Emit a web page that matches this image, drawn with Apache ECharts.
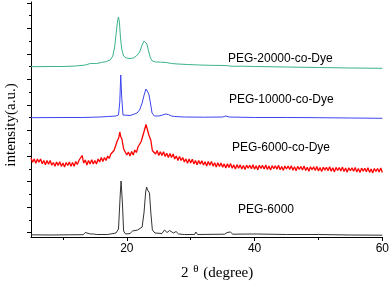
<!DOCTYPE html>
<html>
<head>
<meta charset="utf-8">
<script src="https://cdn.jsdelivr.net/npm/echarts@6/dist/echarts.min.js"></script>
<style>html,body{margin:0;padding:0;background:#fff}#c{width:392px;height:282px}</style>
</head>
<body>
<div id="c"></div>
<script>
// 2θ (degree) vs intensity (a.u., stacked offsets)
const peg6000 = [[5,2.2],[8,2.0],[11,2.2],[13.2,2.3],[13.5,4.5],[13.8,2.5],[14.3,3],[14.5,5],[14.75,3],[15.0,5],[15.3,2.5],[17,2.5],[18.3,4],[18.7,8],[18.95,40],[19.1,56],[19.3,35],[19.5,6],[19.8,3],[20.5,3.5],[20.9,6],[21.2,4.5],[21.7,7],[22.0,6],[22.4,10],[22.7,25],[22.95,45],[23.1,50],[23.25,47],[23.4,47.5],[23.55,44],[23.75,25],[24.0,7],[24.4,4],[25.5,3.5],[25.9,7],[26.3,4.5],[26.7,6.5],[27.0,7],[27.3,4],[27.7,5.5],[28.1,3],[29,2.5],[30.6,2.5],[30.8,5],[31.1,2.5],[35.3,2.8],[35.7,4.5],[36.2,5],[36.6,2.8],[39.6,3],[39.9,5],[40.3,3],[45,2.5],[50,2.5],[55,2.0],[60,1.8]];
const peg6000Dye = [[5,79],[5.25,74.8],[5.5,78],[5.75,73.8],[6,78],[6.25,74.8],[6.5,78],[6.75,73.3],[7,76.5],[7.25,72.3],[7.5,76.5],[7.75,72.8],[8,76.5],[8.25,71.8],[8.5,74.5],[8.75,70.8],[9,75],[9.25,71.4],[9.5,75.3],[9.75,70.6],[10,74],[10.25,70],[10.5,74.5],[10.75,71.5],[11,75],[11.25,70.7],[11.5,74.5],[11.75,70.7],[12,75.5],[12.25,72.5],[12.5,76.5],[12.75,76],[13,81.5],[13.25,74],[13.5,77],[13.75,72],[14,76.5],[14.25,73.1],[14.5,77.3],[14.75,73],[15,76.5],[15.25,73],[15.5,78],[15.75,75],[16,79.5],[16.25,75.5],[16.5,79.5],[16.75,76.5],[17,81],[17.25,78.5],[17.5,83],[17.75,81],[18,86.5],[18.25,86.5],[18.5,96],[18.75,99.5],[18.9,105],[19.05,100.5],[19.25,97.5],[19.5,88],[19.75,87.5],[20,82],[20.25,85],[20.5,81],[20.75,85.5],[21,82],[21.25,87],[21.5,84.5],[21.75,90],[22,88],[22.25,95.5],[22.5,96.5],[22.7,105.5],[22.85,107],[23,112.5],[23.15,111],[23.3,110.5],[23.5,101],[23.75,97],[24,86.5],[24.25,88],[24.5,83],[24.75,86.5],[25,81.5],[25.25,85.3],[25.5,81.5],[25.75,85.3],[26,80.5],[26.25,83.8],[26.5,79.5],[26.75,83.5],[27,79.5],[27.25,83],[27.5,78],[27.75,81],[28,76.5],[28.25,80.5],[28.5,76.5],[28.75,79.5],[29,75],[29.25,78.1],[29.5,73.7],[29.75,77.9],[30,74],[30.25,77.8],[30.5,73.1],[30.75,76.4],[31,72.3],[31.25,76.6],[31.5,72.9],[31.75,76.2],[32,72],[32.25,75.3],[32.5,71.1],[32.75,75.4],[33,71.7],[33.25,75.5],[33.5,70.9],[33.75,74.2],[34,70],[34.25,74.3],[34.5,70.6],[34.75,73.9],[35,69.7],[35.25,73.1],[35.5,68.9],[35.75,73.2],[36,69.5],[36.25,73.4],[36.5,68.7],[36.75,72.1],[37,68],[37.25,72.4],[37.5,68.8],[37.75,72.1],[38,68],[38.25,71.5],[38.5,67.4],[38.75,71.9],[39,68.9],[39.25,71.8],[39.5,68.3],[39.75,72.3],[40,67.8],[40.25,71.3],[40.5,67.2],[40.75,71.7],[41,68.6],[41.25,71.6],[41.5,68],[41.75,72],[42,67.5],[42.25,70.9],[42.5,66.9],[42.75,71.35],[43,68.3],[43.25,71.3],[43.5,67.7],[43.75,71.7],[44,67.15],[44.25,70.6],[44.5,66.6],[44.75,71],[45,68],[45.25,70.95],[45.5,67.4],[45.75,71.35],[46,66.8],[46.25,70.25],[46.5,66.2],[46.75,70.65],[47,67.6],[47.25,70.55],[47.5,67],[47.75,70.95],[48,66.4],[48.25,69.85],[48.5,65.8],[48.75,70.25],[49,67.2],[49.25,70.15],[49.5,66.6],[49.75,70.55],[50,66],[50.25,69.45],[50.5,65.4],[50.75,69.9],[51,66.85],[51.25,69.8],[51.5,66.3],[51.75,70.25],[52,65.7],[52.25,69.15],[52.5,65.1],[52.75,69.6],[53,66.55],[53.25,69.5],[53.5,66],[53.75,69.95],[54,65.4],[54.25,68.9],[54.5,64.85],[54.75,69.3],[55,66.3],[55.25,69.25],[55.5,65.7],[55.75,69.6],[56,65],[56.25,68.5],[56.5,64.4],[56.75,68.9],[57,65.8],[57.25,68.8],[57.5,65.2],[57.75,69.2],[58,64.6],[58.25,68.1],[58.5,64.1],[58.75,68.55],[59,65.5],[59.25,68.5],[59.5,65],[59.75,69],[60,64.5]];
const peg10000Dye = [[5,119.3],[10,119.5],[13,119.5],[15.8,120],[17,120.5],[18.3,121],[18.7,122],[18.9,135],[19.05,162],[19.2,140],[19.4,122],[19.7,121],[20.5,121.5],[21.2,123],[21.6,124],[22.0,127],[22.4,134],[22.75,143],[23.0,148],[23.2,149],[23.45,143],[23.7,134],[23.95,124],[24.3,121],[25,121],[25.6,122],[26.1,123],[26.5,122.5],[27,121],[27.5,120.5],[29,120],[32,119.8],[35,120],[35.5,121],[36,120],[40,119.5],[45,119.5],[50,119.3],[55,119],[60,118.7]];
const peg20000Dye = [[5,170.3],[8,170.5],[10,170.5],[12,171],[13.5,172],[14.3,173.5],[14.6,174.5],[14.9,173.5],[15.3,173.5],[16,174.5],[16.8,175.5],[17.4,177],[17.8,181],[18.1,190],[18.35,205],[18.55,216],[18.7,220],[18.85,214],[19.0,200],[19.2,188],[19.5,181],[19.9,179],[20.5,178.5],[21.0,179],[21.5,181],[22.0,185],[22.4,192],[22.7,196],[22.9,197],[23.15,193],[23.4,186],[23.7,179],[24.0,176],[24.5,175],[25.3,174.8],[26.2,174.5],[27,173.5],[28,173],[29.5,172.5],[31.4,172],[33,171.7],[35.5,171.5],[36.5,170.7],[38,170.8],[40,170.5],[45,170],[50,169.5],[55,169],[60,168.7]];
const seriesNames = ['PEG-6000','PEG-6000-co-Dye','PEG-10000-co-Dye','PEG-20000-co-Dye'];
const xLabelTicks = [20,40,60];
const xMinorTicks = [10,30,50];
const yMajorTicks = [4.3,29.85,55.4,80.95,106.5,132.05,157.6,183.15,208.7,234.25];
const yMinorTicks = [17.1,42.6,68.2,93.7,119.3,144.8,170.4,195.9,221.5];

const chart = echarts.init(document.getElementById('c'), null, {renderer:'canvas'});
const serif = 'Liberation Serif, Times New Roman, serif';
const sans = 'Liberation Sans, Arial, sans-serif';
function lineSeries(name, data, color, width){
  return {name:name, type:'line', data:data, showSymbol:false, symbol:'none', smooth:false,
    lineStyle:{color:color, width:width}, itemStyle:{color:color}, animation:false, xAxisIndex:0, yAxisIndex:0};
}
chart.setOption({
  backgroundColor:'#fff',
  animation:false,
  grid:{left:31, right:9, top:2, bottom:45},
  xAxis:[{
    type:'value', min:5, max:60, position:'bottom',
    axisLine:{show:true, lineStyle:{color:'#000', width:1}},
    axisTick:{show:true, customValues:xLabelTicks, length:4, lineStyle:{color:'#000'}},
    axisLabel:{show:true, customValues:xLabelTicks, color:'#000', fontFamily:sans, fontSize:12, margin:6},
    splitLine:{show:false}
  },{
    type:'value', min:5, max:60, position:'bottom', gridIndex:0,
    axisLine:{show:false},
    axisTick:{show:true, customValues:xMinorTicks, length:3, lineStyle:{color:'#000'}},
    axisLabel:{show:false},
    splitLine:{show:false}
  }],
  yAxis:[{
    type:'value', min:0, max:235, position:'left',
    axisLine:{show:true, lineStyle:{color:'#000', width:1}},
    axisTick:{show:true, customValues:yMajorTicks, length:4, lineStyle:{color:'#000'}},
    axisLabel:{show:false},
    splitLine:{show:false}
  },{
    type:'value', min:0, max:235, position:'left',
    axisLine:{show:false},
    axisTick:{show:true, customValues:yMinorTicks, length:2, lineStyle:{color:'#000'}},
    axisLabel:{show:false},
    splitLine:{show:false}
  }],
  series:[
    lineSeries(seriesNames[0], peg6000, '#333333', 1),
    lineSeries(seriesNames[1], peg6000Dye, '#ff0000', 1.3),
    lineSeries(seriesNames[2], peg10000Dye, '#3d45f0', 1),
    lineSeries(seriesNames[3], peg20000Dye, '#3cb38c', 1)
  ],
  graphic:[
    {type:'text', left:228, top:53, style:{text:seriesNames[3], fontFamily:sans, fontSize:12, fill:'#000'}},
    {type:'text', left:229, top:94, style:{text:seriesNames[2], fontFamily:sans, fontSize:12, fill:'#000'}},
    {type:'text', left:232, top:142, style:{text:seriesNames[1], fontFamily:sans, fontSize:12, fill:'#000'}},
    {type:'text', left:238, top:204, style:{text:seriesNames[0], fontFamily:sans, fontSize:12, fill:'#000'}},
    {type:'text', x:181, y:264, style:{text:'{a|2 }{b|θ}{a| (degree)}', rich:{a:{fontFamily:serif, fontSize:15, fill:'#000', verticalAlign:'bottom'}, b:{fontFamily:serif, fontSize:11, fill:'#000', verticalAlign:'top', padding:[0,1,6,1]}}}},
    {type:'text', x:11, y:125, rotation:Math.PI/2, style:{text:'intensity(a.u.)', fontFamily:serif, fontSize:15, fill:'#000', align:'center', verticalAlign:'middle'}}
  ]
});
</script>
</body>
</html>
